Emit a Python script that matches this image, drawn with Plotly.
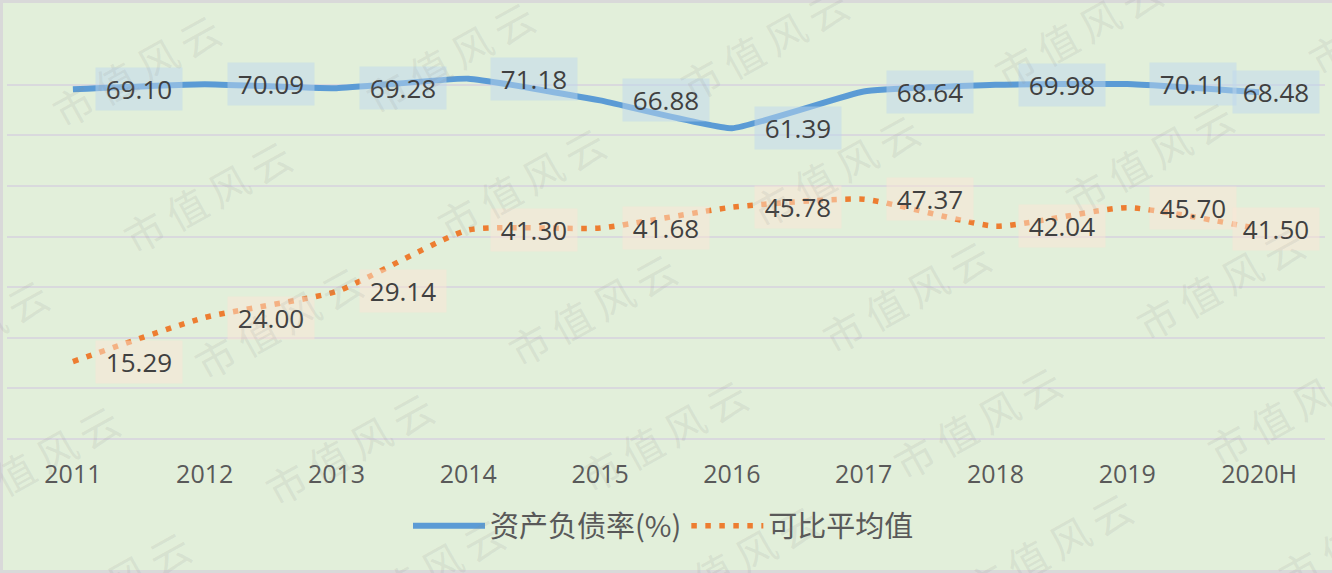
import plotly.graph_objects as go

# ---- data ----
categories = ["2011", "2012", "2013", "2014", "2015", "2016", "2017", "2018", "2019", "2020H"]
debt_ratio = [69.10, 70.09, 69.28, 71.18, 66.88, 61.39, 68.64, 69.98, 70.11, 68.48]
peer_avg = [15.29, 24.00, 29.14, 41.30, 41.68, 45.78, 47.37, 42.04, 45.70, 41.50]
series_names = ["资产负债率(%)", "可比平均值"]
watermark_text = "市\u2009值\u2009风\u2009云"

# ---- layout geometry ----
W, H = 1332, 573
ML, MR, MT, MB = 7, 7, 34, 134
PW, PH = W - ML - MR, H - MT - MB


def px_to_paper(px, py):
    return (px - ML) / PW, (H - MB - py) / PH


BG = "#E2EFDA"
GRID = "#D9D9DD"
TXT = "#404040"

fig = go.Figure()
fig.add_trace(go.Scatter(
    x=categories, y=debt_ratio, name=series_names[0], mode="lines",
    line=dict(color="#5B9BD5", width=6, shape="spline", smoothing=0.35),
))
fig.add_trace(go.Scatter(
    x=categories, y=peer_avg, name=series_names[1], mode="lines",
    line=dict(color="#ED7D31", width=5.5, dash="5.5px,8.5px", shape="spline", smoothing=0.5),
))

annotations = []
label_styles = [
    (debt_ratio, "rgba(189,215,238,0.5)"),
    (peer_avg, "rgba(251,229,214,0.5)"),
]
n = len(categories)
for values, fill in label_styles:
    for i, v in enumerate(values):
        annotations.append(dict(
            x=i, y=v, xref="x", yref="y", text=f"{v:.2f}", showarrow=False,
            xanchor="left", yanchor="middle", xshift=(-27 if i == n - 1 else 22),
            bgcolor=fill, width=78, height=34, borderpad=4,
            font=dict(family="Open Sans", size=26, color=TXT),
        ))

# ---- watermark tiling ----
ox, oy = 136, 70
ax_, ay_ = 71, 126
bx_, by_ = 314, -13
for i in range(-3, 7):
    for j in range(-3, 7):
        cx = ox + i * ax_ + j * bx_
        cy = oy + i * ay_ + j * by_
        if -110 < cx < W + 110 and -70 < cy < H + 70:
            px_, py_ = px_to_paper(cx, cy)
            annotations.append(dict(
                x=px_, y=py_, xref="paper", yref="paper", text=watermark_text,
                showarrow=False, xanchor="center", yanchor="middle", textangle=-29,
                font=dict(family="Noto Sans CJK SC", size=40, color="rgba(140,140,140,0.14)"),
            ))

# ---- border ----
x0, y0 = px_to_paper(1.5, 1.5)
x1, y1 = px_to_paper(W + 10, H - 1.5)
shapes = [dict(type="rect", xref="paper", yref="paper", x0=x0, y0=y1, x1=x1, y1=y0,
               line=dict(color="#D9D9D9", width=3), fillcolor="rgba(0,0,0,0)", layer="above")]

lx, ly = px_to_paper(408, 526)

fig.update_layout(
    width=W, height=H,
    margin=dict(l=ML, r=MR, t=MT, b=MB),
    paper_bgcolor=BG, plot_bgcolor=BG,
    showlegend=True,
    legend=dict(orientation="h", x=lx, y=ly, xanchor="left", yanchor="middle",
                font=dict(family="Noto Sans CJK SC", size=29, color="#595959"),
                bgcolor="rgba(0,0,0,0)", itemwidth=72, tracegroupgap=0),
    xaxis=dict(type="category", range=[-0.5, n - 0.5], showgrid=False, showline=False,
               zeroline=False, ticks="outside", ticklen=13, tickcolor="rgba(0,0,0,0)",
               tickfont=dict(family="Open Sans", size=25, color="#595959")),
    yaxis=dict(range=[0, 80], dtick=10, showticklabels=False, showgrid=True,
               gridcolor=GRID, gridwidth=2, zeroline=True, zerolinecolor=GRID,
               zerolinewidth=2, showline=False, fixedrange=True),
    annotations=annotations,
    shapes=shapes,
)

fig.write_html("out.html")
